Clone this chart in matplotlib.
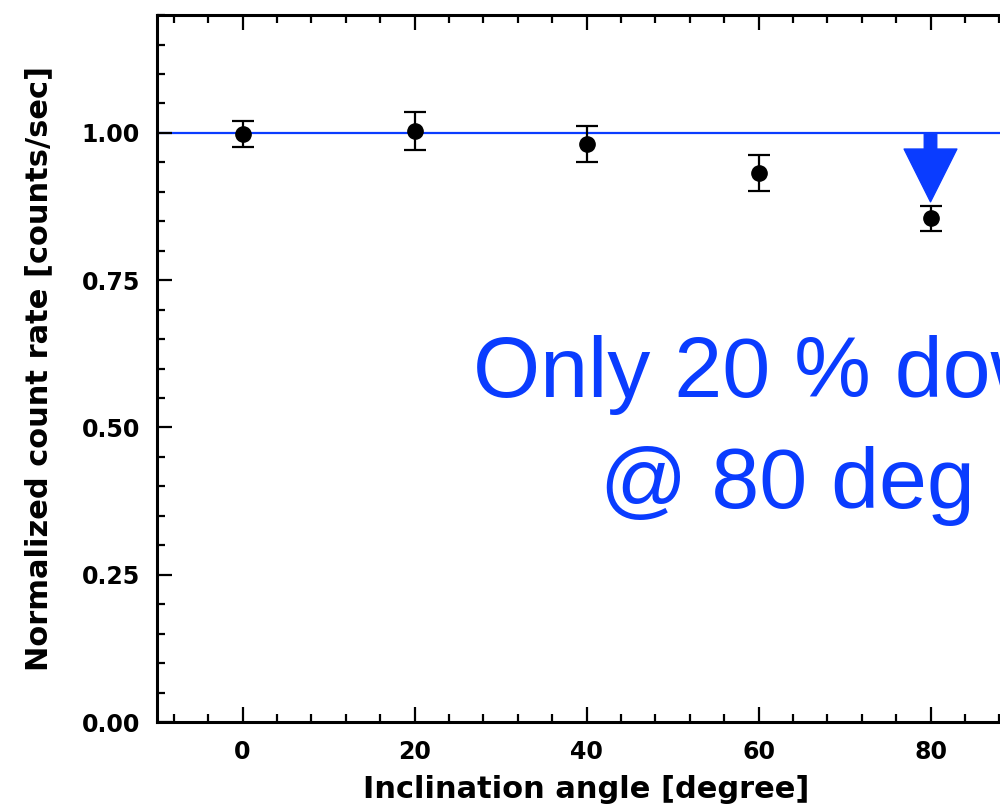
import matplotlib
matplotlib.use("Agg")
import matplotlib.pyplot as plt
from matplotlib.ticker import MultipleLocator

# Inclination scan: normalized count rate with 1-sigma errors
angles = [0, 20, 40, 60, 80]
rate = [0.998, 1.003, 0.981, 0.932, 0.855]
err_lo = [0.022, 0.032, 0.031, 0.031, 0.022]
err_hi = [0.022, 0.032, 0.031, 0.031, 0.021]
reference_level = 1.0
arrow_tip = 0.883
note_lines = ["Only 20 % down", "@ 80 deg"]
note_x = 63.3
note_baselines = [0.551, 0.364]

blue = "#0a3cff"
font = "DejaVu Sans"
note_font = "Liberation Sans"

fig = plt.figure(figsize=(10, 8.1), dpi=100)
ax = fig.add_axes([0.1565, 0.1086, 0.86, 0.8728])

ax.axhline(reference_level, color=blue, lw=1.6, zorder=1)
ax.errorbar(angles, rate, yerr=[err_lo, err_hi], fmt="o", color="black",
            ms=11, elinewidth=1.6, capsize=8, capthick=1.6, zorder=3)

ax.annotate("", xy=(angles[-1], arrow_tip), xytext=(angles[-1], reference_level),
            arrowprops=dict(facecolor=blue, edgecolor=blue, width=9,
                            headwidth=38, headlength=38, shrink=0),
            zorder=2)

for line, yb in zip(note_lines, note_baselines):
    ax.text(note_x, yb, line, color=blue, fontsize=62, family=note_font,
            ha="center", va="baseline")

ax.set_xlim(-10, 90)
ax.set_ylim(0, 1.2)
ax.set_xticks([0, 20, 40, 60, 80])
ax.set_yticks([0, 0.25, 0.5, 0.75, 1.0])
ax.set_yticklabels(["0.00", "0.25", "0.50", "0.75", "1.00"])
ax.xaxis.set_minor_locator(MultipleLocator(4))
ax.yaxis.set_minor_locator(MultipleLocator(0.05))
ax.tick_params(which="both", direction="in", top=True, right=True, width=1.6)
ax.tick_params(which="major", length=11, labelsize=17)
ax.tick_params(axis="x", which="major", pad=13)
ax.tick_params(axis="y", which="major", pad=12)
ax.tick_params(which="minor", length=6)
for lab in ax.get_xticklabels() + ax.get_yticklabels():
    lab.set_fontweight("bold")
    lab.set_family(font)
for sp in ax.spines.values():
    sp.set_linewidth(2.2)

ax.set_xlabel("Inclination angle [degree]", fontsize=22, fontweight="bold",
              family=font, labelpad=8)
ax.set_ylabel("Normalized count rate [counts/sec]", fontsize=22,
              fontweight="bold", family=font, labelpad=20)

fig.savefig("out.png", dpi=100)
